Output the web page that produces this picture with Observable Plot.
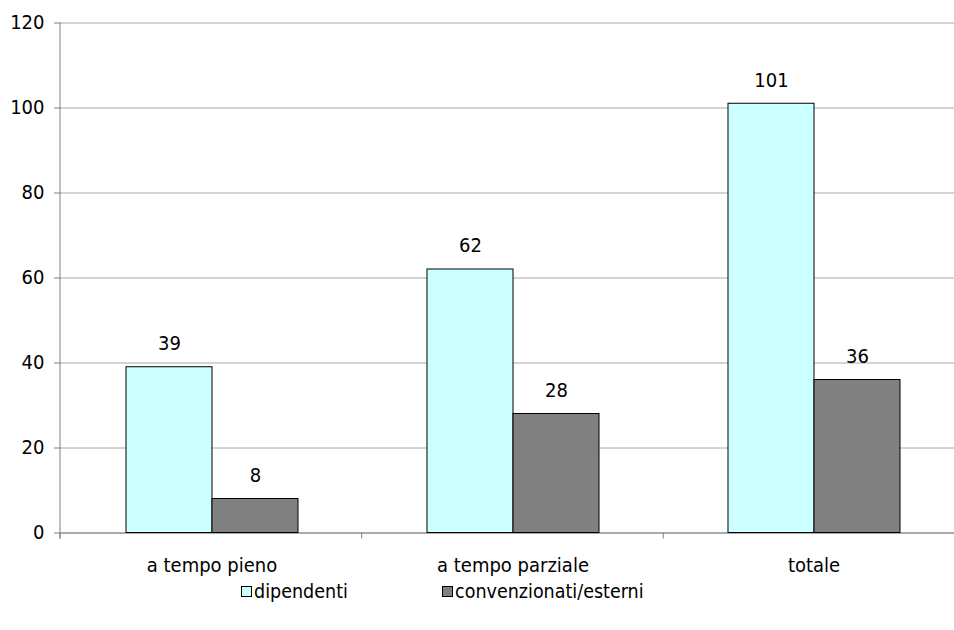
<!DOCTYPE html>
<html>
<head>
<meta charset="utf-8">
<script src="https://cdn.jsdelivr.net/npm/d3@7"></script>
<script src="https://cdn.jsdelivr.net/npm/@observablehq/plot@0.6"></script>
<style>
  html, body { margin: 0; padding: 0; background: #fff; overflow: hidden; }
  body { font-family: "DejaVu Sans Condensed", "DejaVu Sans", sans-serif; color: #000; }
  #legend { position: relative; width: 954px; height: 50px; font-size: 19.5px; }
  #legend .item { position: absolute; top: 0; display: flex; align-items: center; height: 22px; white-space: nowrap; }
  #legend .swatch { width: 9px; height: 9px; border: 1px solid #000; margin-right: 2px; }
</style>
</head>
<body>
<div id="chart"></div>
<div id="legend"></div>
<script>
// Personale per tipo di rapporto
const categories = ["a tempo pieno", "a tempo parziale", "totale"];
const series = ["dipendenti", "convenzionati/esterni"];
const dipendenti = [39, 62, 101];
const convenzionati = [8, 28, 36];
const yTicks = [0, 20, 40, 60, 80, 100, 120];
const colors = ["#CCFFFF", "#808080"];
const legendLeft = [241, 442];

const data = categories.flatMap((c, i) => [
  {categoria: c, serie: series[0], valore: dipendenti[i]},
  {categoria: c, serie: series[1], valore: convenzionati[i]}
]);

const font = "'DejaVu Sans Condensed', 'DejaVu Sans', sans-serif";
const axisGray = "#808080";
const fontSize = 20;

const plot = Plot.plot({
  width: 965,
  height: 580,
  marginLeft: 60,
  marginRight: 0,
  marginTop: 22.5,
  marginBottom: 47.5,
  style: {fontFamily: font, fontSize: fontSize + "px", color: "#000", background: "#fff", overflow: "visible", maxWidth: "none", height: "580px"},
  fx: {domain: categories, padding: 0, label: null},
  x: {domain: series, paddingInner: 0, paddingOuter: 0.7406, axis: null},
  y: {domain: [0, 120], label: null, axis: null},
  color: {domain: series, range: colors},
  marks: [
    Plot.gridY(yTicks, {stroke: "#a8a8a8", strokeOpacity: 1}),
    Plot.ruleY([0], {stroke: axisGray}),
    Plot.barY(data, {fx: "categoria", x: "serie", y: "valore", fill: "serie", stroke: "#000", strokeWidth: 1}),
    Plot.text(data, {fx: "categoria", x: "serie", y: "valore", text: d => String(d.valore), lineAnchor: "middle", dy: -23.5, fill: "#000", fontSize}),
    Plot.axisY(yTicks, {tickSize: 7, tickPadding: 10, stroke: axisGray, fill: "#000", label: null, fontSize, tickFormat: d => String(d)}),
    Plot.axisFx({anchor: "bottom", tickSize: 0, tickPadding: 25, label: null, fill: "#000", fontSize})
  ]
});

document.getElementById("chart").appendChild(plot);

// Vertical axis line and the tick marks between categories
const fx = plot.scale("fx");
const y = plot.scale("y");
const svg = d3.select(plot);
const y0 = y.apply(0);
const yTop = y.apply(120);
const step = (fx.range[1] - fx.range[0]) / categories.length;
const gAxis = svg.append("g").attr("stroke", axisGray).attr("fill", "none");
gAxis.append("line")
  .attr("x1", fx.range[0]).attr("x2", fx.range[0])
  .attr("y1", yTop).attr("y2", y0 + 6);
d3.range(categories.length + 1).forEach(i => {
  const xb = fx.range[0] + i * step;
  gAxis.append("line").attr("x1", xb).attr("x2", xb).attr("y1", y0).attr("y2", y0 + 6);
});

// Legend
const legend = d3.select("#legend");
series.forEach((s, i) => {
  const item = legend.append("div").attr("class", "item").style("left", legendLeft[i] + "px");
  item.append("div").attr("class", "swatch").style("background", colors[i]);
  item.append("span").text(s);
});
</script>
</body>
</html>
